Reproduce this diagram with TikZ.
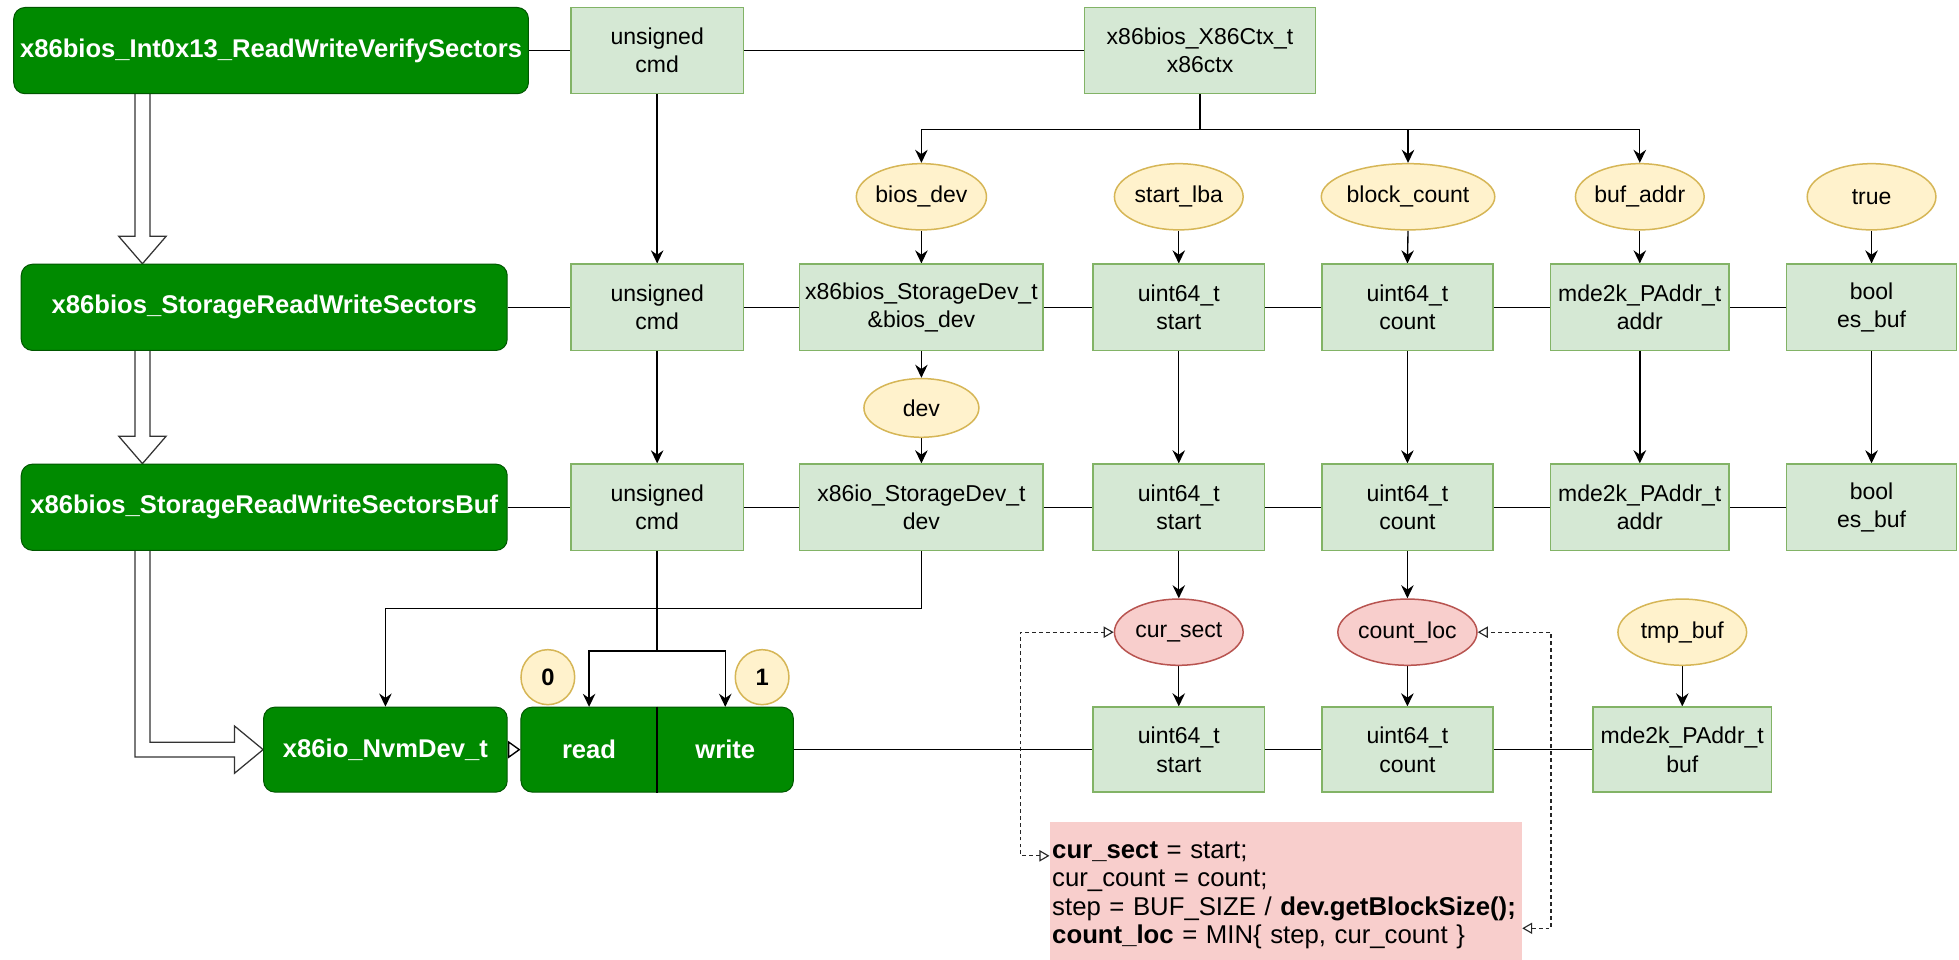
\documentclass[tikz,border=0pt]{standalone}
\usepackage{fontspec}
\setmainfont{Liberation Sans}
\usetikzlibrary{arrows.meta,shapes.geometric,calc}

\definecolor{gfill}{HTML}{008A00}
\definecolor{gline}{HTML}{005700}
\definecolor{lgfill}{HTML}{D5E8D4}
\definecolor{lgline}{HTML}{82B366}
\definecolor{yfill}{HTML}{FFF2CC}
\definecolor{yline}{HTML}{D6B656}
\definecolor{rfill}{HTML}{F8CECC}
\definecolor{rline}{HTML}{B85450}

\pgfdeclarelayer{background}
\pgfsetlayers{background,main}

\tikzset{
  fnbox/.style={draw=gline, fill=gfill, rounded corners=9pt, line width=0.8pt,
    text=white, inner sep=0pt, minimum height=69,
    font=\fontsize{20.5}{24}\selectfont\bfseries},
  varbox/.style={draw=lgline, fill=lgfill, line width=1.2pt, inner sep=0pt,
    minimum height=69, align=center, font=\fontsize{18.4}{22.7}\selectfont},
  argoval/.style={ellipse, draw=yline, fill=yfill, line width=1.2pt, inner sep=0pt,
    minimum width=103, minimum height=53, font=\fontsize{18.4}{22}\selectfont},
  locoval/.style={argoval, draw=rline, fill=rfill},
  bitoval/.style={ellipse, draw=yline, fill=yfill, line width=1.2pt, inner sep=0pt,
    minimum width=43, minimum height=44, font=\fontsize{19}{22}\selectfont\bfseries},
  halfbox/.style={inner sep=0pt, minimum width=109, minimum height=68, text=white,
    font=\fontsize{20.5}{24}\selectfont\bfseries},
  conn/.style={draw=black, line width=1.1pt},
  arr/.style={conn, -{Stealth[length=10.5pt,width=10pt,inset=3.5pt]}},
  flex/.style={draw=black!80, line width=1pt, fill=white, line join=miter},
  dconn/.style={draw=black!85, line width=0.9pt, dash pattern=on 3pt off 2.5pt,
    {Triangle[open,length=8pt,width=9pt]}-{Triangle[open,length=8pt,width=9pt]}},
  codebox/.style={fill=rfill, inner xsep=2pt, inner ysep=0pt, text width=374,
    minimum height=117, align=left, font=\fontsize{20.6}{22.7}\selectfont},
}

% hollow "flex" arrow going straight down from #1 to #2
\newcommand\flexv[2]{%
  \draw[flex] ($(#1)+(-6,0)$) -- ($(#2)+(-6,-22)$) -- ($(#2)+(-19,-22)$) -- (#2)
    -- ($(#2)+(19,-22)$) -- ($(#2)+(6,-22)$) -- ($(#1)+(6,0)$);}

\begin{document}
\begin{tikzpicture}[x=1pt,y=-1pt]
\useasboundingbox (0,0) rectangle (1568,768);
\begin{pgfonlayer}{background}
  \fill[white] (0,0) rectangle (1568,768);
\end{pgfonlayer}

% ---- function row 1
\node[fnbox, minimum width=412] (g1) at (217,40.5) {x86bios\_Int0x13\_ReadWriteVerifySectors};
\node[varbox, minimum width=138] (u1) at (526,40.5) {unsigned\\cmd};
\node[varbox, minimum width=185] (ctx) at (960.5,40.5) {x86bios\_X86Ctx\_t\\x86ctx};

% ---- values handed to row 2
\node[argoval] (biosdevA) at (737.5,157.5) {bios\_dev};
\node[argoval] (startlba) at (943.5,157.5) {start\_lba};
\node[argoval, minimum width=108] (blockcount) at (1127,157.5) {block\_count};
\node[argoval] (bufaddr) at (1312.5,157.5) {buf\_addr};
\node[argoval] (truev) at (1498,157.5) {true};

% ---- function row 2
\node[fnbox, minimum width=389] (g2) at (211.5,246) {x86bios\_StorageReadWriteSectors};
\node[varbox, minimum width=138] (u2) at (526,246) {unsigned\\cmd};
\node[varbox, minimum width=195] (bdev2) at (737.5,246) {x86bios\_StorageDev\_t\\\&bios\_dev};
\node[varbox, minimum width=137] (start2) at (943.5,246) {uint64\_t\\start};
\node[varbox, minimum width=137] (count2) at (1126.5,246) {uint64\_t\\count};
\node[varbox, minimum width=143] (addr2) at (1312.5,246) {mde2k\_PAddr\_t\\addr};
\node[varbox, minimum width=136] (esbuf2) at (1498,246) {bool\\es\_buf};

\node[argoval, minimum width=92, minimum height=47] (devo) at (737.5,326.5) {dev};

% ---- function row 3
\node[fnbox, minimum width=389] (g3) at (211.5,406) {x86bios\_StorageReadWriteSectorsBuf};
\node[varbox, minimum width=138] (u3) at (526,406) {unsigned\\cmd};
\node[varbox, minimum width=195] (dev3) at (737.5,406) {x86io\_StorageDev\_t\\dev};
\node[varbox, minimum width=137] (start3) at (943.5,406) {uint64\_t\\start};
\node[varbox, minimum width=137] (count3) at (1126.5,406) {uint64\_t\\count};
\node[varbox, minimum width=143] (addr3) at (1312.5,406) {mde2k\_PAddr\_t\\addr};
\node[varbox, minimum width=136] (esbuf3) at (1498,406) {bool\\es\_buf};

% ---- locals
\node[locoval] (cursect) at (943.5,506) {cur\_sect};
\node[locoval] (countloc) at (1126.5,506) {count\_loc};
\node[argoval] (tmpbuf) at (1346.5,506) {tmp\_buf};

\node[bitoval] (zero) at (438.5,542) {0};
\node[bitoval] (one) at (610,542) {1};

% ---- device row
\node[fnbox, minimum width=195, minimum height=68] (nvm) at (308.5,600) {x86io\_NvmDev\_t};
\node[fnbox, minimum width=218, minimum height=68] (rw) at (526,600) {};
\node[halfbox] (read) at (471.5,600) {read};
\node[halfbox] (write) at (580.5,600) {write};
\node[varbox, minimum width=137, minimum height=68] (start4) at (943.5,600) {uint64\_t\\start};
\node[varbox, minimum width=137, minimum height=68] (count4) at (1126.5,600) {uint64\_t\\count};
\node[varbox, minimum width=143, minimum height=68] (buf4) at (1346.5,600) {mde2k\_PAddr\_t\\buf};

% ---- loop set-up code (one statement per line, never wrapped)
\node[codebox, anchor=north west] (code) at (840,658)
  {\mbox{\strut\textbf{cur\_sect} = start;}\\
   \mbox{\strut cur\_count = count;}\\
   \mbox{\strut step = BUF\_SIZE / \textbf{dev.getBlockSize();}}\\
   \mbox{\strut\textbf{count\_loc} = MIN\{ step, cur\_count \}}};

\begin{pgfonlayer}{background}
  % call chain
  \coordinate (fx) at (114,0);
  \coordinate (f1a) at (g1.south -| fx);
  \coordinate (f1b) at (g2.north -| fx);
  \coordinate (f2a) at (g2.south -| fx);
  \coordinate (f2b) at (g3.north -| fx);
  \coordinate (f3a) at (g3.south -| fx);
  \coordinate (f3c) at (fx |- nvm.west);
  \flexv{f1a}{f1b}
  \flexv{f2a}{f2b}
  \draw[flex] ($(f3a)+(-6,0)$) -- ($(f3c)+(-6,6)$) -- ($(nvm.west)+(-23,6)$)
    -- ($(nvm.west)+(-23,19)$) -- (nvm.west) -- ($(nvm.west)+(-23,-19)$)
    -- ($(nvm.west)+(-23,-6)$) -- ($(f3c)+(6,-6)$) -- ($(f3a)+(6,0)$);

  % row 1
  \draw[conn] (g1.east) -- (u1.west);
  \draw[conn] (u1.east) -- (ctx.west);
  \draw[conn] (ctx.south) -- ++(0,28) coordinate (br);
  \draw[arr] (br) -| (biosdevA.north);
  \draw[arr] (br) -| (blockcount.north);
  \draw[arr] (br) -| (bufaddr.north);
  \draw[arr] (u1.south) -- (u2.north);
  \draw[arr] (biosdevA.south) -- (bdev2.north);
  \draw[arr] (startlba.south) -- (start2.north);
  \draw[arr] (blockcount.south) -- (count2.north);
  \draw[arr] (bufaddr.south) -- (addr2.north);
  \draw[arr] (truev.south) -- (esbuf2.north);

  % row 2
  \draw[conn] (g2.east) -- (u2.west);
  \draw[conn] (u2.east) -- (bdev2.west);
  \draw[conn] (bdev2.east) -- (start2.west);
  \draw[conn] (start2.east) -- (count2.west);
  \draw[conn] (count2.east) -- (addr2.west);
  \draw[conn] (addr2.east) -- (esbuf2.west);
  \draw[arr] (u2.south) -- (u3.north);
  \draw[arr] (bdev2.south) -- (devo.north);
  \draw[arr] (devo.south) -- (dev3.north);
  \draw[arr] (start2.south) -- (start3.north);
  \draw[arr] (count2.south) -- (count3.north);
  \draw[arr, line width=1.8pt] (addr2.south) -- (addr3.north);
  \draw[arr] (esbuf2.south) -- (esbuf3.north);

  % row 3
  \draw[conn] (g3.east) -- (u3.west);
  \draw[conn] (u3.east) -- (dev3.west);
  \draw[conn] (dev3.east) -- (start3.west);
  \draw[conn] (start3.east) -- (count3.west);
  \draw[conn] (count3.east) -- (addr3.west);
  \draw[conn] (addr3.east) -- (esbuf3.west);
  \draw[arr] (start3.south) -- (cursect.north);
  \draw[arr] (count3.south) -- (countloc.north);
  \draw[arr] (dev3.south) -- ++(0,46) -| (nvm.north);
  \draw[conn] (u3.south) -- ++(0,80) coordinate (rwb);
  \draw[arr] (rwb) -| (read.north);
  \draw[arr] (rwb) -| (write.north);

  % row 4
  \draw[arr] (cursect.south) -- (start4.north);
  \draw[arr] (countloc.south) -- (count4.north);
  \draw[arr] (tmpbuf.south) -- (buf4.north);
  \draw[conn] (rw.east) -- (start4.west);
  \draw[conn] (start4.east) -- (count4.west);
  \draw[conn] (count4.east) -- (buf4.west);

  % code references
  \coordinate (cL) at ($(code.north west)+(0,27)$);
  \coordinate (cR) at ($(code.north east)+(0,85)$);
  \draw[dconn] (cL) -- ++(-23,0) |- (cursect.west);
  \draw[dconn] (cR) -- ++(23,0) |- (countloc.east);
\end{pgfonlayer}

\draw[conn] (rw.north) -- (rw.south);
\draw[conn, -{Triangle[open,length=10pt,width=14pt]}] (nvm.east) -- (rw.west);
\end{tikzpicture}
\end{document}
